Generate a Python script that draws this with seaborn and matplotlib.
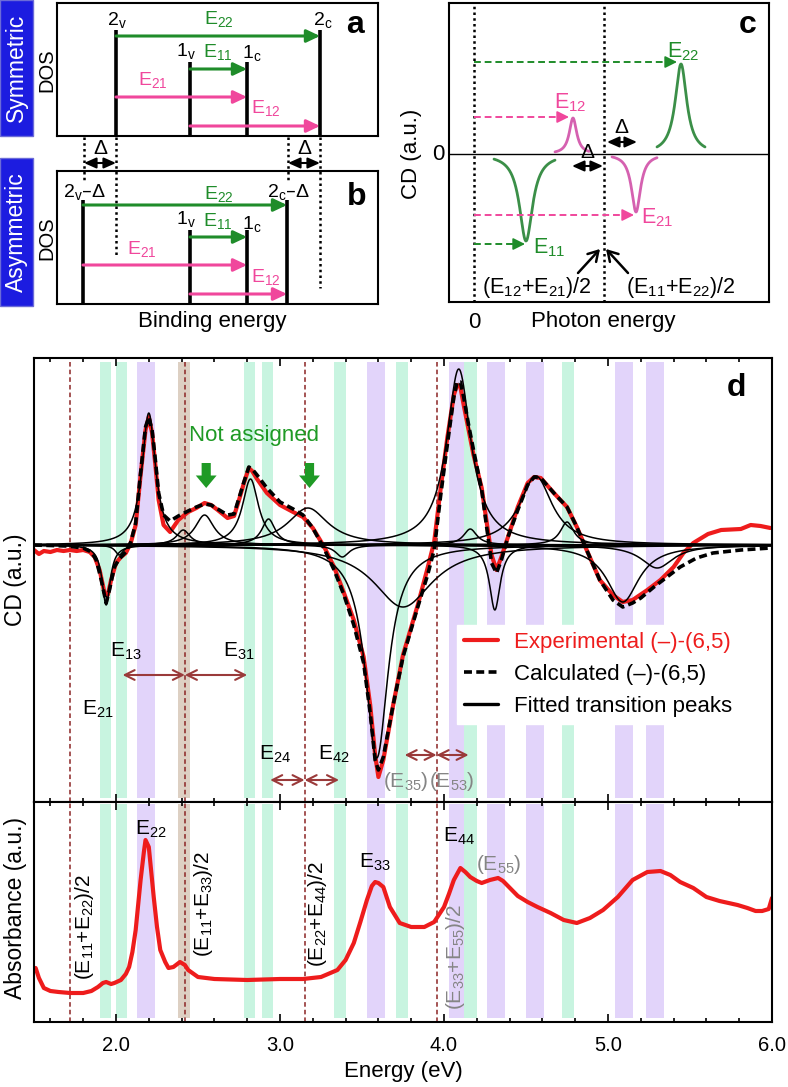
import numpy as np
import pandas as pd
import matplotlib
matplotlib.use("Agg")
import matplotlib.pyplot as plt
import seaborn as sns
from matplotlib.lines import Line2D
from matplotlib.patches import Rectangle
from matplotlib.ticker import MultipleLocator, FormatStrFormatter

# ------------------------------------------------------------------ data
# panel d : CD spectra (energy in eV, CD in arbitrary units)
exp_E = [1.50, 1.53, 1.56, 1.60, 1.64, 1.68, 1.72, 1.76, 1.80, 1.84,
         1.87, 1.90, 1.93, 1.95, 1.97, 2.00, 2.03, 2.06, 2.09, 2.12,
         2.15, 2.18, 2.20, 2.22, 2.24, 2.26, 2.29, 2.33, 2.38, 2.44,
         2.49, 2.54, 2.58, 2.62, 2.68, 2.72, 2.75, 2.78, 2.81, 2.83,
         2.86, 2.92, 3.00, 3.08, 3.14, 3.20, 3.27, 3.33, 3.39, 3.45,
         3.51, 3.55, 3.58, 3.60, 3.63, 3.69, 3.75, 3.84, 3.90, 3.94,
         3.98, 4.02, 4.06, 4.08, 4.10, 4.12, 4.15, 4.18, 4.23, 4.26,
         4.29, 4.32, 4.35, 4.39, 4.45, 4.51, 4.55, 4.59, 4.67, 4.75,
         4.81, 4.87, 4.95, 5.03, 5.09, 5.15, 5.24, 5.32, 5.40, 5.46,
         5.52, 5.61, 5.69, 5.81, 5.87, 5.93, 5.99]
exp_CD = [-5, -9, -6, -7, -5, -6, -5, -6, -5, -7,
          -12, -25, -48, -50, -35, -18, -12, -8, 2, 20,
          70, 115, 128, 112, 80, 45, 20, 13, 25, 33,
          37, 42, 40, 35, 27, 29, 45, 62, 77, 74,
          66, 52, 40, 33, 28, 17, -2, -22, -48, -75,
          -112, -160, -210, -232, -215, -160, -110, -60, -23, 3,
          57, 107, 150, 160, 158, 140, 115, 90, 57, 23,
          -10, -25, -12, 8, 38, 62, 68, 67, 52, 38,
          18, -5, -35, -50, -57, -55, -45, -35, -22, -8,
          2, 11, 15, 16, 20, 19, 17]

calc_E = [1.50, 1.70, 1.80, 1.85, 1.88, 1.91, 1.94, 1.96, 1.99, 2.02,
          2.06, 2.09, 2.12, 2.15, 2.18, 2.20, 2.22, 2.24, 2.26, 2.29,
          2.33, 2.38, 2.44, 2.49, 2.54, 2.58, 2.62, 2.68, 2.72, 2.75,
          2.78, 2.81, 2.83, 2.86, 2.92, 3.00, 3.08, 3.14, 3.20, 3.27,
          3.33, 3.39, 3.45, 3.51, 3.55, 3.58, 3.60, 3.63, 3.69, 3.75,
          3.84, 3.90, 3.94, 3.98, 4.02, 4.06, 4.08, 4.10, 4.12, 4.15,
          4.18, 4.23, 4.26, 4.29, 4.32, 4.35, 4.39, 4.45, 4.51, 4.55,
          4.59, 4.67, 4.75, 4.81, 4.87, 4.95, 5.03, 5.09, 5.15, 5.20,
          5.28, 5.36, 5.44, 5.54, 5.64, 5.81, 5.99]
calc_CD = [0, -1, -3, -7, -15, -35, -58, -45, -22, -14,
           -7, 3, 22, 72, 118, 128, 115, 85, 52, 30,
           24, 29, 34, 38, 41, 40, 36, 30, 31, 47,
           63, 78, 76, 70, 57, 43, 36, 30, 17, -4,
           -25, -50, -80, -118, -168, -215, -225, -212, -160, -112,
           -62, -30, -5, 50, 100, 148, 163, 163, 148, 120,
           95, 55, 18, -18, -28, -15, 8, 35, 60, 68,
           67, 52, 38, 18, -5, -35, -55, -62, -58, -53,
           -42, -32, -22, -13, -8, -5, -3]

# fitted transition peaks (Lorentzian): centre (eV), amplitude, half width (eV)
peak_center = [1.94, 2.02, 2.20, 2.41, 2.54, 2.82, 2.93, 3.17, 3.38,
               3.59, 3.75, 4.09, 4.16, 4.31, 4.56, 4.75, 5.09, 5.30]
peak_amp = [-60, -10, 132, 15, 30, 66, 26, 37, -12,
            -213, -62, 176, 16, -65, 69, 23, -57, -23]
peak_hwhm = [0.03, 0.03, 0.05, 0.05, 0.07, 0.06, 0.05, 0.15, 0.05,
             0.085, 0.22, 0.09, 0.05, 0.04, 0.12, 0.05, 0.12, 0.12]

# absorbance
abs_E = [1.51, 1.53, 1.56, 1.60, 1.65, 1.72, 1.80, 1.85, 1.89, 1.92,
         1.94, 1.97, 1.99, 2.03, 2.06, 2.08, 2.10, 2.12, 2.15, 2.17,
         2.18, 2.20, 2.23, 2.25, 2.27, 2.30, 2.32, 2.35, 2.39, 2.42,
         2.44, 2.50, 2.60, 2.80, 3.00, 3.14, 3.25, 3.35, 3.40, 3.45,
         3.49, 3.53, 3.56, 3.58, 3.60, 3.63, 3.67, 3.73, 3.80, 3.88,
         3.94, 4.00, 4.03, 4.06, 4.10, 4.13, 4.16, 4.20, 4.23, 4.28,
         4.33, 4.36, 4.39, 4.45, 4.51, 4.57, 4.65, 4.73, 4.81, 4.89,
         4.97, 5.06, 5.15, 5.24, 5.32, 5.38, 5.44, 5.52, 5.60, 5.68,
         5.79, 5.85, 5.90, 5.94, 5.98, 6.00]
abs_val = [54, 44, 34, 31, 30, 29, 29, 31, 35, 39,
           40, 38, 39, 42, 48, 55, 70, 92, 142, 170,
           182, 175, 125, 95, 72, 60, 54, 55, 60, 57,
           52, 45, 43, 42, 43, 43, 45, 52, 62, 79,
           100, 122, 136, 140, 139, 135, 115, 99, 95, 95,
           100, 115, 128, 142, 154, 150, 145, 141, 139, 142,
           144, 141, 136, 126, 120, 115, 109, 102, 99, 104,
           112, 125, 142, 150, 151, 147, 140, 134, 125, 121,
           117, 114, 111, 111, 113, 124]

band_green = [(1.90, 1.97), (2.00, 2.07), (2.78, 2.85), (2.89, 2.96), (3.33, 3.40),
              (3.71, 3.78), (4.12, 4.20), (4.72, 4.79)]
band_purple = [(2.13, 2.24), (3.53, 3.64), (4.03, 4.12), (4.26, 4.37), (4.50, 4.61),
               (5.04, 5.15), (5.23, 5.34)]
band_tan = [(2.38, 2.45)]
avg_lines = [1.72, 2.42, 3.15, 3.955]

# panel c schematic peaks (photon energy a.u., CD a.u.)
c_center = [77, 124, 187, 232]
c_amp = [-87, 36, -58, 90]
c_hwhm = [8, 4.5, 5.5, 7]
c_window = [(45, 106), (106, 140), (163, 208), (208, 256)]
c_name = ['11', '12', '21', '22']

# panels a, b schematic level positions (binding energy a.u.)
a_level_x = [116, 190, 247, 320]
a_level_top = [30, 62, 62, 30]
b_level_x = [83, 190, 247, 287]
b_level_top = [200, 230, 230, 200]

# ------------------------------------------------------------------ style
sns.set_theme(style="white")
plt.rcParams['font.family'] = ['Liberation Sans', 'DejaVu Sans']
plt.rcParams['mathtext.default'] = 'regular'
plt.rcParams['axes.edgecolor'] = 'black'
plt.rcParams['axes.linewidth'] = 1.5
plt.rcParams['text.color'] = 'black'
plt.rcParams['xtick.color'] = 'black'

RED = '#ee1c1c'
GREEN = '#1f8c2a'
PINK = '#f0479c'
C_GREEN_CURVE = '#3b8f48'
C_PINK_CURVE = '#d561b0'
BROWN = '#9a3a3a'
VLINE = '#8b2525'
GRAY = '#858585'
BAND_G = '#c8f4e0'
BAND_P = '#e2d4fa'
BAND_T = '#ddd0c3'
NA_GREEN = '#1f9a25'

W, H = 788, 1087
fig = plt.figure(figsize=(W / 100, H / 100), dpi=100)
fig.patch.set_facecolor('white')


def rect(x0, y0, x1, y1):
    return [x0 / W, 1 - y1 / H, (x1 - x0) / W, (y1 - y0) / H]


def lor(x, c, a, g):
    return a * g ** 2 / ((x - c) ** 2 + g ** 2)


def arrow(ax, x0, x1, y, color, lw=2.2, ms=10, style='-|>,head_length=0.8,head_width=0.38'):
    ax.annotate('', xy=(x1, y), xytext=(x0, y),
                arrowprops=dict(arrowstyle=style, color=color, lw=lw,
                                mutation_scale=ms, shrinkA=0, shrinkB=0))


# ------------------------------------------------------------------ panel a
axA = fig.add_axes(rect(57, 3, 378, 136))
axA.set_xlim(57, 378)
axA.set_ylim(136, 3)
axA.set_xticks([]); axA.set_yticks([])
for x, top in zip(a_level_x, a_level_top):
    axA.plot([x, x], [top, 136], color='black', lw=2.6, solid_capstyle='butt')
arrow(axA, a_level_x[0], a_level_x[3], 36, GREEN)
arrow(axA, a_level_x[1], a_level_x[2], 69, GREEN)
arrow(axA, a_level_x[0], a_level_x[2], 97, PINK)
arrow(axA, a_level_x[1], a_level_x[3], 126, PINK)
fs_ab = 14
axA.text(117, 25, '2$_v$', ha='center', va='baseline', fontsize=fs_ab)
axA.text(323, 25, '2$_c$', ha='center', va='baseline', fontsize=fs_ab)
axA.text(186, 56, '1$_v$', ha='center', va='baseline', fontsize=fs_ab)
axA.text(252, 58, '1$_c$', ha='center', va='baseline', fontsize=fs_ab)
axA.text(219, 24, 'E$_{22}$', ha='center', va='baseline', fontsize=fs_ab, color=GREEN)
axA.text(218, 57, 'E$_{11}$', ha='center', va='baseline', fontsize=fs_ab, color=GREEN)
axA.text(153, 85, 'E$_{21}$', ha='center', va='baseline', fontsize=fs_ab, color=PINK)
axA.text(266, 113, 'E$_{12}$', ha='center', va='baseline', fontsize=fs_ab, color=PINK)
axA.text(355, 33, 'a', ha='center', va='baseline', fontsize=23, fontweight='bold')

# ------------------------------------------------------------------ panel b
axB = fig.add_axes(rect(57, 171, 378, 304))
axB.set_xlim(57, 378)
axB.set_ylim(304, 171)
axB.set_xticks([]); axB.set_yticks([])
for x, top in zip(b_level_x, b_level_top):
    axB.plot([x, x], [top, 304], color='black', lw=2.6, solid_capstyle='butt')
arrow(axB, b_level_x[0], b_level_x[3], 205, GREEN)
arrow(axB, b_level_x[1], b_level_x[2], 237, GREEN)
arrow(axB, b_level_x[0], b_level_x[2], 265, PINK)
arrow(axB, b_level_x[1], b_level_x[3], 294, PINK)
axB.text(84, 197, '2$_v$–Δ', ha='center', va='baseline', fontsize=fs_ab)
axB.text(288, 197, '2$_c$–Δ', ha='center', va='baseline', fontsize=fs_ab)
axB.text(186, 224, '1$_v$', ha='center', va='baseline', fontsize=fs_ab)
axB.text(252, 229, '1$_c$', ha='center', va='baseline', fontsize=fs_ab)
axB.text(219, 199, 'E$_{22}$', ha='center', va='baseline', fontsize=fs_ab, color=GREEN)
axB.text(218, 226, 'E$_{11}$', ha='center', va='baseline', fontsize=fs_ab, color=GREEN)
axB.text(142, 254, 'E$_{21}$', ha='center', va='baseline', fontsize=fs_ab, color=PINK)
axB.text(266, 282, 'E$_{12}$', ha='center', va='baseline', fontsize=fs_ab, color=PINK)
axB.text(357, 205, 'b', ha='center', va='baseline', fontsize=23, fontweight='bold')

# ------------------------------------------------------------------ panel c
axC = fig.add_axes(rect(449, 3, 769, 302))
axC.set_xlim(0, 320)
axC.set_ylim(-148, 151)
axC.set_xticks([]); axC.set_yticks([])
axC.axhline(0, color='black', lw=1.0)
for xv in (25, 155):
    axC.axvline(xv, color='black', lw=1.8, ls=(0, (1, 1.3)))
for c, a, g, (lo, hi), nm in zip(c_center, c_amp, c_hwhm, c_window, c_name):
    xs = np.linspace(lo, hi, 300)
    col = C_GREEN_CURVE if nm in ('11', '22') else C_PINK_CURVE
    sns.lineplot(x=xs, y=lor(xs, c, a, g), ax=axC, color=col, lw=2.0)
# dashed arrows
for tip, yv, col in [(228, 92, GREEN), (120, 37, PINK), (185, -61, PINK), (76, -90, GREEN)]:
    axC.plot([25, tip - 3], [yv, yv], color=col, lw=1.4, ls=(0, (3.5, 2)))
    axC.annotate('', xy=(tip, yv), xytext=(tip - 6, yv),
                 arrowprops=dict(arrowstyle='-|>,head_length=0.8,head_width=0.4', color=col,
                                 lw=1.2, mutation_scale=9, shrinkA=0, shrinkB=0))
fs_c = 15.5
axC.text(234, 97, 'E$_{22}$', ha='center', va='baseline', fontsize=fs_c, color=GREEN)
axC.text(121, 46, 'E$_{12}$', ha='center', va='baseline', fontsize=fs_c, color=PINK)
axC.text(208, -69, 'E$_{21}$', ha='center', va='baseline', fontsize=fs_c, color=PINK)
axC.text(100, -99, 'E$_{11}$', ha='center', va='baseline', fontsize=fs_c, color=GREEN)
axC.text(299, 121, 'c', ha='center', va='baseline', fontsize=23, fontweight='bold')
arrow(axC, 158, 188, 12, 'black', lw=1.5, ms=8, style='<|-|>,head_length=0.9,head_width=0.4')
arrow(axC, 123, 154, -12, 'black', lw=1.5, ms=8, style='<|-|>,head_length=0.9,head_width=0.4')
axC.text(172, 21, 'Δ', ha='center', va='baseline', fontsize=15)
axC.text(138, -4, 'Δ', ha='center', va='baseline', fontsize=15)
axC.annotate('', xy=(151, -95), xytext=(129, -119),
             arrowprops=dict(arrowstyle='->,head_length=0.5,head_width=0.3', color='black',
                             lw=1.8, mutation_scale=14, shrinkA=0, shrinkB=0))
axC.annotate('', xy=(157, -95), xytext=(179, -119),
             arrowprops=dict(arrowstyle='->,head_length=0.5,head_width=0.3', color='black',
                             lw=1.8, mutation_scale=14, shrinkA=0, shrinkB=0))
axC.text(88, -139, '(E$_{12}$+E$_{21}$)/2', ha='center', va='baseline', fontsize=fs_c)
axC.text(232, -139, '(E$_{11}$+E$_{22}$)/2', ha='center', va='baseline', fontsize=fs_c)
axC.set_xlabel(''); axC.set_ylabel('')

# ------------------------------------------------------------------ panel d
axd = fig.add_axes(rect(34, 358, 772, 802))
axa = fig.add_axes(rect(34, 802, 772, 1022))

for ax, (ymn, ymx) in ((axd, (0.009, 0.991)), (axa, (0.018, 0.99))):
    for lo, hi in band_green:
        ax.axvspan(lo, hi, ymin=ymn, ymax=ymx, color=BAND_G, lw=0, zorder=0)
    for lo, hi in band_purple:
        ax.axvspan(lo, hi, ymin=ymn, ymax=ymx, color=BAND_P, lw=0, zorder=0)
    for lo, hi in band_tan:
        ax.axvspan(lo, hi, ymin=ymn, ymax=ymx, color=BAND_T, lw=0, zorder=0)
    for xv in avg_lines:
        ax.axvline(xv, color=VLINE, lw=1.1, ls=(0, (3, 2)), zorder=1)

E_grid = np.linspace(1.5, 6.0, 1501)
fit_df = pd.concat([pd.DataFrame({'E': E_grid, 'CD': lor(E_grid, c, a, g), 'peak': i})
                    for i, (c, a, g) in enumerate(zip(peak_center, peak_amp, peak_hwhm))])

sns.lineplot(x=exp_E, y=exp_CD, ax=axd, color=RED, lw=3.0, zorder=2)
sns.lineplot(x=calc_E, y=calc_CD, ax=axd, color='black', lw=2.6, ls=(0, (2.2, 1.2)), zorder=3)
sns.lineplot(data=fit_df, x='E', y='CD', units='peak', estimator=None, ax=axd,
             color='black', lw=1.1, zorder=4)
sns.lineplot(x=abs_E, y=abs_val, ax=axa, color=RED, lw=3.0, zorder=2)

axd.set_xlim(1.5, 6.0)
axd.set_ylim(-257, 187)
axa.set_xlim(1.5, 6.0)
axa.set_ylim(0, 220)
for ax in (axd, axa):
    ax.set_xlabel(''); ax.set_ylabel('')
    ax.set_yticks([])
    ax.xaxis.set_major_locator(MultipleLocator(1.0))
    ax.xaxis.set_minor_locator(MultipleLocator(0.2))
    ax.tick_params(axis='x', which='both', direction='in', top=True, bottom=True, width=1.2)
    ax.tick_params(axis='x', which='major', length=5.5)
    ax.tick_params(axis='x', which='minor', length=3)
axd.tick_params(axis='x', labelbottom=False)
axa.xaxis.set_major_formatter(FormatStrFormatter('%.1f'))
axa.tick_params(axis='x', which='major', labelsize=14.5, pad=10)

# annotations in CD panel
fs_d = 15
axd.text(5.786, 157, 'd', ha='center', va='center', fontsize=23, fontweight='bold')
axd.text(2.84, 110, 'Not assigned', ha='center', va='center', fontsize=16, color=NA_GREEN)
for xv in (2.55, 3.18):
    axd.annotate('', xy=(xv, 57), xytext=(xv, 82),
                 arrowprops=dict(arrowstyle='simple,head_length=0.75,head_width=1.25,tail_width=0.55',
                                 color=NA_GREEN, mutation_scale=12, shrinkA=0, shrinkB=0, lw=0))
for x0, x1, yv in [(2.04, 2.42, -130), (2.42, 2.80, -130), (2.94, 3.15, -235), (3.15, 3.36, -235),
                   (3.76, 3.955, -210), (3.955, 4.15, -210)]:
    arrow(axd, x0, x1, yv, BROWN, lw=1.5, ms=10, style='<->,head_length=0.7,head_width=0.35')
axd.text(2.06, -112, 'E$_{13}$', ha='center', va='baseline', fontsize=fs_d)
axd.text(2.75, -112, 'E$_{31}$', ha='center', va='baseline', fontsize=fs_d)
axd.text(1.887, -170, 'E$_{21}$', ha='center', va='baseline', fontsize=fs_d)
axd.text(2.967, -215, 'E$_{24}$', ha='center', va='baseline', fontsize=fs_d)
axd.text(3.33, -215, 'E$_{42}$', ha='center', va='baseline', fontsize=fs_d)
axd.text(3.765, -242, '(E$_{35}$)', ha='center', va='baseline', fontsize=fs_d, color=GRAY)
axd.text(4.05, -242, '(E$_{53}$)', ha='center', va='baseline', fontsize=fs_d, color=GRAY)

handles = [Line2D([0], [0], color=RED, lw=3.0),
           Line2D([0], [0], color='black', lw=2.6, ls=(0, (2.2, 1.2))),
           Line2D([0], [0], color='black', lw=2.4)]
leg = axd.legend(handles, ['Experimental (–)-(6,5)', 'Calculated (–)-(6,5)', 'Fitted transition peaks'],
                 loc='upper left', bbox_to_anchor=(457 / W, 1 - 625 / H), bbox_transform=fig.transFigure,
                 borderaxespad=0, borderpad=0.3, handlelength=1.55, handletextpad=0.7,
                 labelspacing=0.5, fontsize=16, frameon=True, framealpha=1, edgecolor='white',
                 facecolor='white', fancybox=False)
leg.get_texts()[0].set_color(RED)

# annotations in absorbance panel
axa.text(2.21, 187, 'E$_{22}$', ha='center', va='baseline', fontsize=fs_d)
axa.text(3.58, 154, 'E$_{33}$', ha='center', va='baseline', fontsize=fs_d)
axa.text(4.09, 180, 'E$_{44}$', ha='center', va='baseline', fontsize=fs_d)
axa.text(4.336, 152, '(E$_{55}$)', ha='center', va='baseline', fontsize=fs_d, color=GRAY)
axa.text(1.805, 42, '(E$_{11}$+E$_{22}$)/2', rotation=90, ha='center', va='bottom', fontsize=fs_d)
axa.text(2.535, 65, '(E$_{11}$+E$_{33}$)/2', rotation=90, ha='center', va='bottom', fontsize=fs_d)
axa.text(3.228, 55, '(E$_{22}$+E$_{44}$)/2', rotation=90, ha='center', va='bottom', fontsize=fs_d)
axa.text(4.07, 12, '(E$_{33}$+E$_{55}$)/2', rotation=90, ha='center', va='bottom', fontsize=fs_d,
         color=GRAY)

# ------------------------------------------------------------------ overlay (figure pixels)
ov = fig.add_axes([0, 0, 1, 1], zorder=10)
ov.set_xlim(0, W)
ov.set_ylim(H, 0)
ov.set_axis_off()
ov.patch.set_alpha(0)

ov.add_patch(Rectangle((0, 0), 33, 136, facecolor='#1c1ce0', edgecolor='#6b6bd8', lw=1))
ov.add_patch(Rectangle((0, 158), 33, 148, facecolor='#1c1ce0', edgecolor='#6b6bd8', lw=1))
ov.text(16.5, 68, 'Symmetric', rotation=90, ha='center', va='center', color='white', fontsize=16.5)
ov.text(16.5, 232, 'Asymmetric', rotation=90, ha='center', va='center', color='white', fontsize=16.5)
ov.text(47, 70, 'DOS', rotation=90, ha='center', va='center', fontsize=14.5)
ov.text(47, 238, 'DOS', rotation=90, ha='center', va='center', fontsize=14.5)

for xv, y1 in [(84, 183), (116, 255), (288, 183), (320, 288)]:
    ov.plot([xv, xv], [137, y1], color='black', lw=1.8, ls=(0, (1, 1.3)))
for x0, x1 in [(84, 116), (288, 320)]:
    ov.annotate('', xy=(x1, 163), xytext=(x0, 163),
                arrowprops=dict(arrowstyle='<|-|>,head_length=0.9,head_width=0.4', color='black',
                                lw=1.5, mutation_scale=8, shrinkA=0, shrinkB=0))
ov.text(100, 154, 'Δ', ha='center', va='baseline', fontsize=15)
ov.text(304, 154, 'Δ', ha='center', va='baseline', fontsize=15)

ov.text(212, 322, 'Binding energy', ha='center', va='center', fontsize=16)
ov.text(474, 322, '0', ha='center', va='center', fontsize=16)
ov.text(603, 322, 'Photon energy', ha='center', va='center', fontsize=16)
ov.text(438, 154, '0', ha='center', va='center', fontsize=16)
ov.text(412, 154, 'CD (a.u.)', rotation=90, ha='center', va='center', fontsize=16)

ov.text(16, 580, 'CD (a.u.)', rotation=90, ha='center', va='center', fontsize=16.5)
ov.text(16, 908, 'Absorbance (a.u.)', rotation=90, ha='center', va='center', fontsize=16.5)
ov.text(403, 1072, 'Energy (eV)', ha='center', va='center', fontsize=16)

fig.savefig('out.png', dpi=100)
